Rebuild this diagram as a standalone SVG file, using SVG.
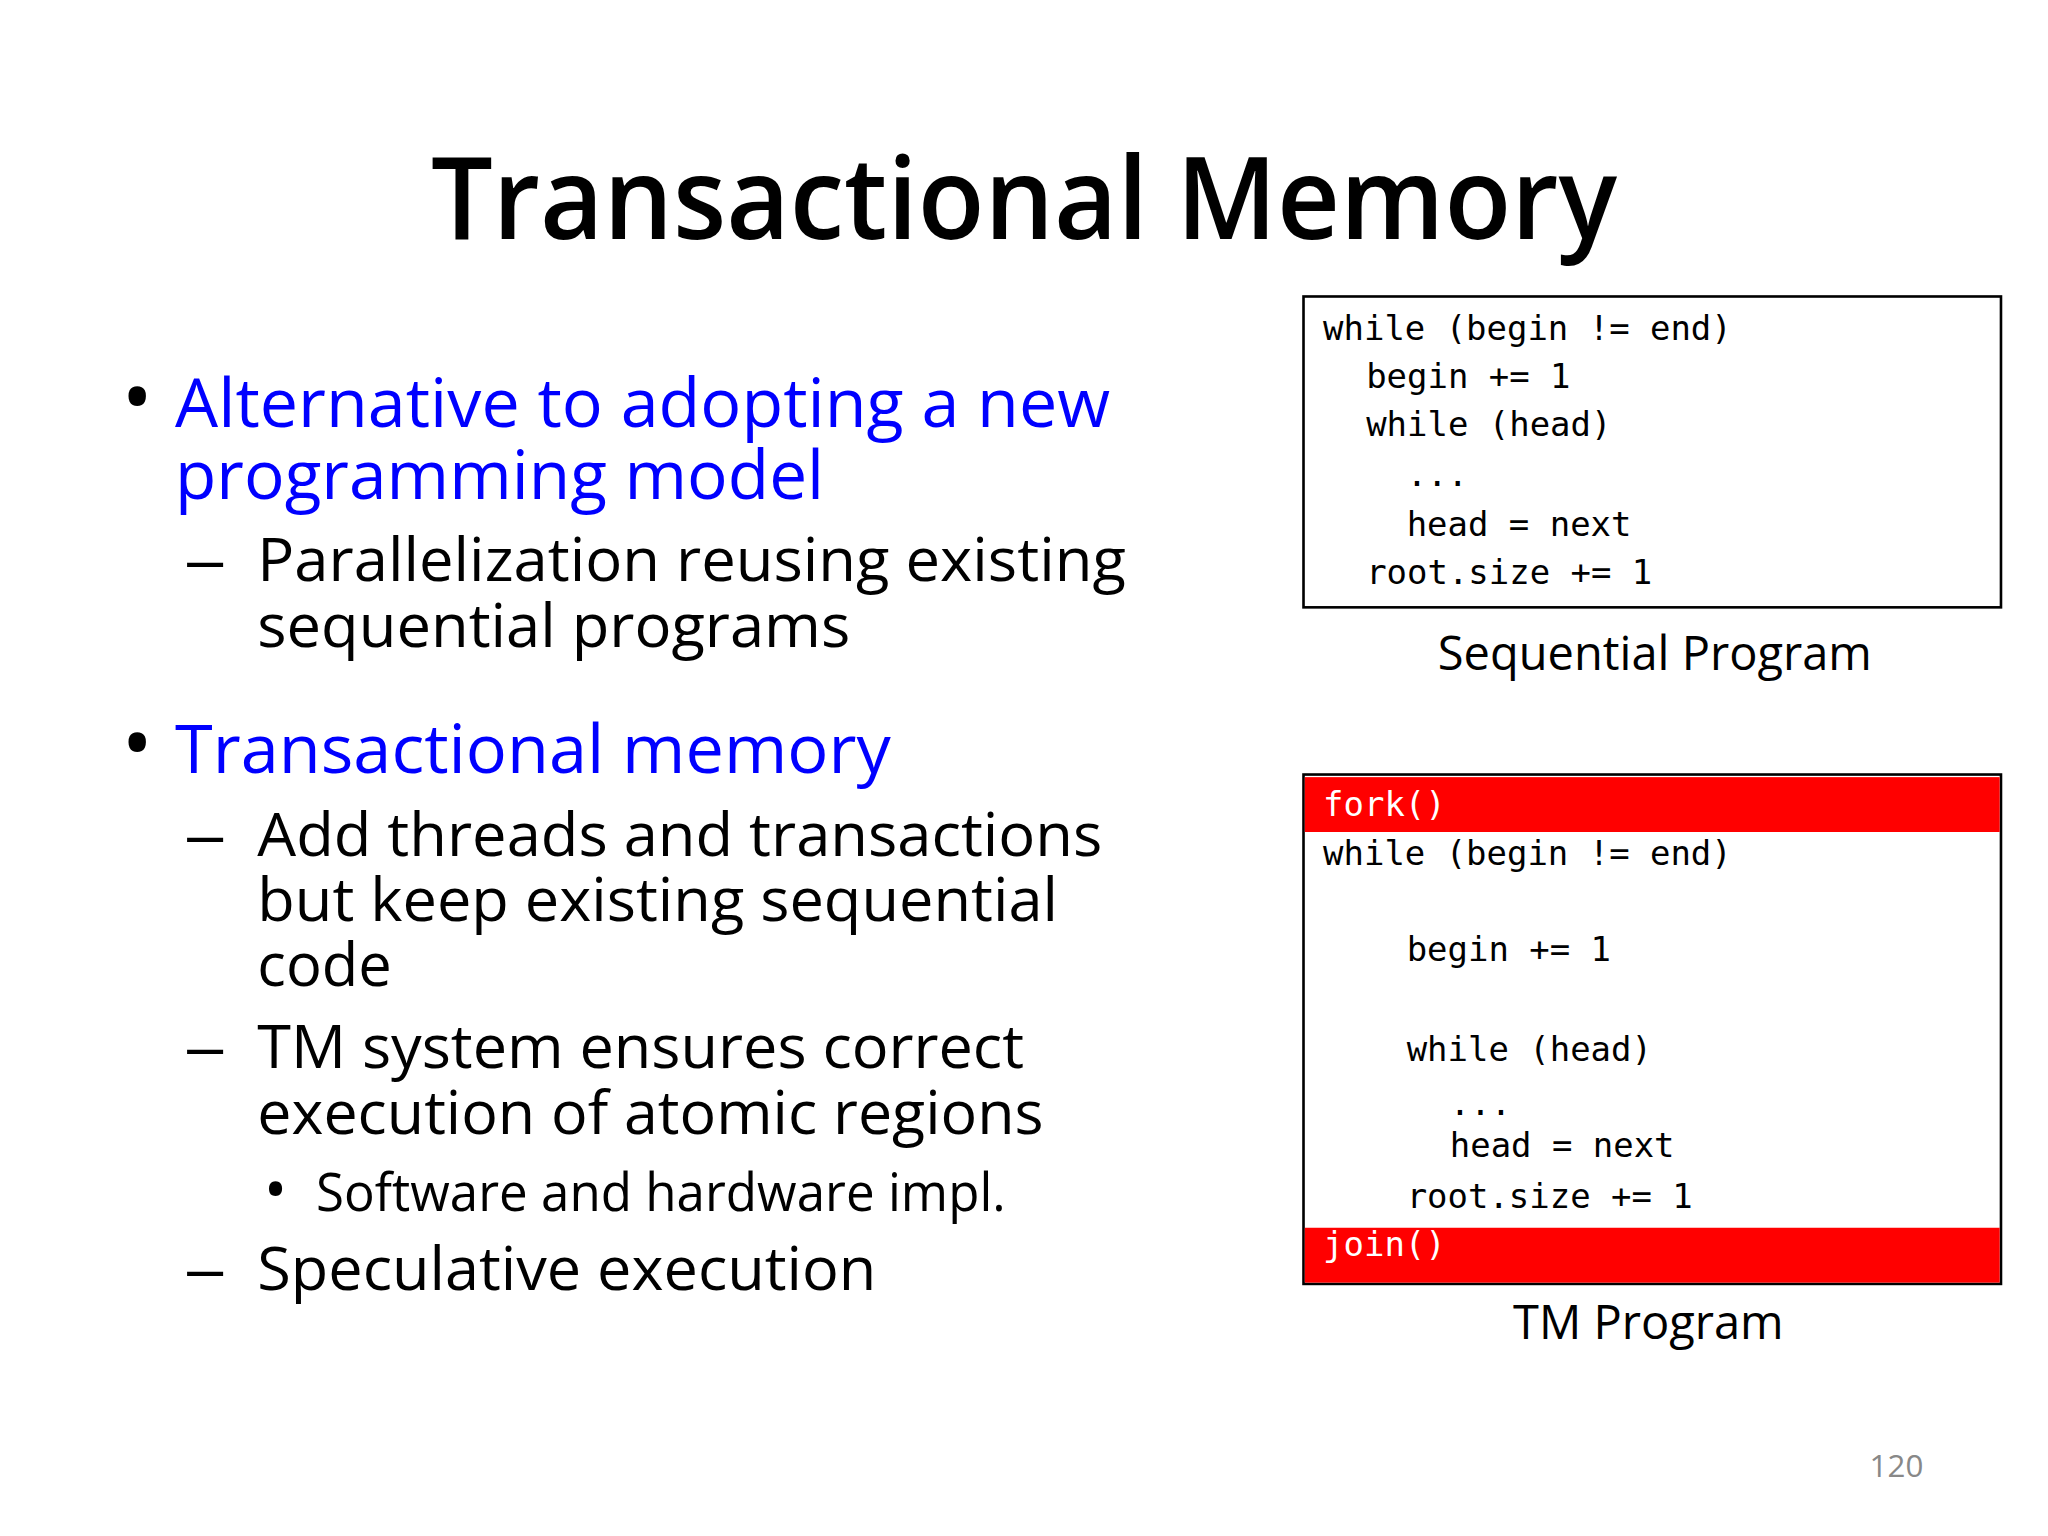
<svg xmlns="http://www.w3.org/2000/svg" width="2048" height="1536" viewBox="0 0 2048 1536">
<style>
.t{font-family:"Open Sans","Liberation Sans",sans-serif;fill:#000}
.b{fill:#0000ff}
.m{font-family:"DejaVu Sans Mono","Liberation Mono",monospace;font-size:26px;fill:#000}
.w{fill:#fff}
.box{fill:#fff;stroke:#000;stroke-width:2}
</style>
<rect width="2048" height="1536" fill="#fff"/>
<g transform="scale(1.30612)">
<g id="title"><text class="t" x="784" y="183" font-size="88" text-anchor="middle" font-weight="600" textLength="908" lengthAdjust="spacingAndGlyphs">Transactional Memory</text></g>
<g id="bullets" class="t">
<text x="93" y="327" font-size="64">•</text>
<text class="t b" x="134" y="327" font-size="52" textLength="716" lengthAdjust="spacingAndGlyphs">Alternative to adopting a new</text>
<text class="t b" x="134" y="382" font-size="52" textLength="497" lengthAdjust="spacingAndGlyphs">programming model</text>
<text x="142" y="445" font-size="46" textLength="30" lengthAdjust="spacingAndGlyphs">—</text>
<text x="197" y="445" font-size="46" textLength="665" lengthAdjust="spacingAndGlyphs">Parallelization reusing existing</text>
<text x="197" y="495" font-size="46" textLength="454" lengthAdjust="spacingAndGlyphs">sequential programs</text>
<text x="93" y="592" font-size="64">•</text>
<text class="t b" x="134" y="592" font-size="52" textLength="548" lengthAdjust="spacingAndGlyphs">Transactional memory</text>
<text x="142" y="655" font-size="46" textLength="30" lengthAdjust="spacingAndGlyphs">—</text>
<text x="197" y="655" font-size="46" textLength="647" lengthAdjust="spacingAndGlyphs">Add threads and transactions</text>
<text x="197" y="705" font-size="46" textLength="613" lengthAdjust="spacingAndGlyphs">but keep  existing sequential</text>
<text x="197" y="755" font-size="46" textLength="103" lengthAdjust="spacingAndGlyphs">code</text>
<text x="142" y="818" font-size="46" textLength="30" lengthAdjust="spacingAndGlyphs">—</text>
<text x="197" y="818" font-size="46" textLength="587" lengthAdjust="spacingAndGlyphs">TM system ensures correct</text>
<text x="197" y="868" font-size="46" textLength="602" lengthAdjust="spacingAndGlyphs">execution of atomic regions</text>
<text x="202" y="927" font-size="48">•</text>
<text x="242" y="927" font-size="40" textLength="528" lengthAdjust="spacingAndGlyphs">Software and hardware impl.</text>
<text x="142" y="988" font-size="46" textLength="30" lengthAdjust="spacingAndGlyphs">—</text>
<text x="197" y="988" font-size="46" textLength="474" lengthAdjust="spacingAndGlyphs">Speculative execution</text>
</g>
<g id="seq">
<rect class="box" x="998" y="227" width="534" height="238"/>
<text class="m" x="1013" y="260">while (begin != end)</text>
<text class="m" x="1046" y="297">begin += 1</text>
<text class="m" x="1046" y="334">while (head)</text>
<text class="m" x="1077" y="372">...</text>
<text class="m" x="1077" y="410">head = next</text>
<text class="m" x="1046" y="447">root.size += 1</text>
<text class="t" x="1267" y="513" font-size="36" text-anchor="middle">Sequential Program</text>
</g>
<g id="tm">
<rect class="box" x="998" y="593" width="534" height="390"/>
<rect x="999" y="595" width="532" height="42" fill="#ff0000"/>
<rect x="999" y="940" width="532" height="42" fill="#ff0000"/>
<text class="m w" x="1013" y="625">fork()</text>
<text class="m" x="1013" y="662">while (begin != end)</text>
<text class="m" x="1077" y="736">begin += 1</text>
<text class="m" x="1077" y="812">while (head)</text>
<text class="m" x="1110" y="854">...</text>
<text class="m" x="1110" y="886">head = next</text>
<text class="m" x="1077" y="925">root.size += 1</text>
<text class="m w" x="1013" y="962">join()</text>
<text class="t" x="1262" y="1025" font-size="36" text-anchor="middle">TM Program</text>
</g>
<g id="page"><text class="t" x="1452" y="1131" font-size="24" text-anchor="middle" style="fill:#888">120</text></g>
</g>
</svg>
